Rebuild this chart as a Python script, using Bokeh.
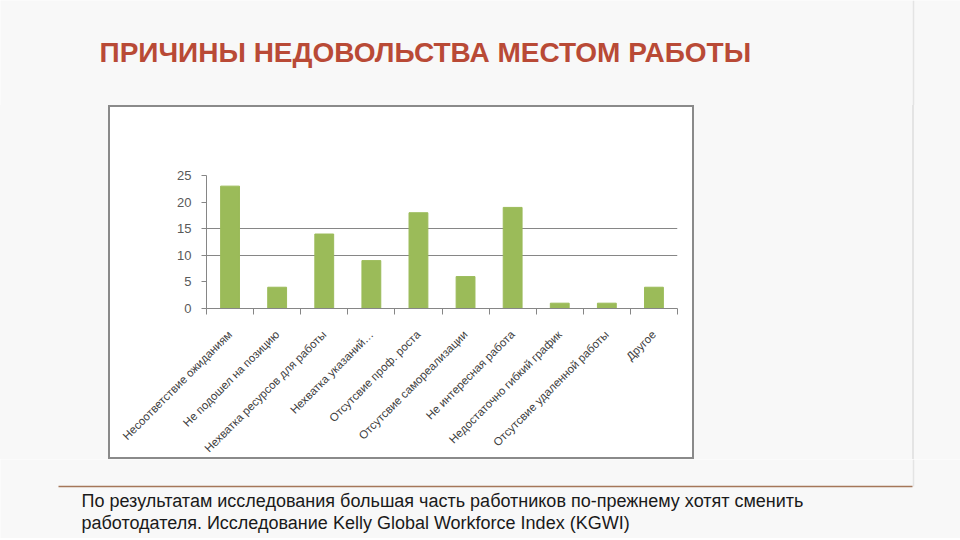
import math
from bokeh.plotting import figure
from bokeh.layouts import column, row
from bokeh.models import Range1d, FixedTicker, Spacer
from bokeh.core.properties import value
from bokeh.embed import file_html
from bokeh.resources import INLINE

categories = [
    "Несоответствие ожиданиям",
    "Не подошел на позицию",
    "Нехватка ресурсов для работы",
    "Нехватка указаний…",
    "Отсутсвие проф. роста",
    "Отсутсвие самореализации",
    "Не интересная работа",
    "Недостаточно гибкий график",
    "Отсутсвие удаленной работы",
    "Другое",
]
values = [23, 4, 14, 9, 18, 6, 19, 1, 1, 4]
y_ticks = [0, 5, 10, 15, 20, 25]
grid_ticks = [10, 15, 25]

title_text = "ПРИЧИНЫ НЕДОВОЛЬСТВА МЕСТОМ РАБОТЫ"
note_lines = [
    "По результатам исследования большая часть работников по-прежнему хотят сменить",
    "работодателя. Исследование Kelly Global Workforce Index (KGWI)",
]

SLIDE_BG = "#f8f8f8"
VLINE_COLOR = "#e4e4e4"
W = 960
TOP_H, MID_H, BOT_H = 105, 354, 79
LEFT_W, CHART_W = 108, 586
RIGHT_W = W - LEFT_W - CHART_W
BORDER = 2
VLINE_X = 913


def blank(width, height):
    f = figure(width=width, height=height, output_backend="svg", toolbar_location=None,
               x_range=Range1d(0, width), y_range=Range1d(height, 0),
               min_border=0, min_border_left=0, min_border_right=0,
               min_border_top=0, min_border_bottom=0)
    f.axis.visible = False
    f.grid.visible = False
    f.outline_line_color = None
    f.background_fill_color = SLIDE_BG
    f.border_fill_color = SLIDE_BG
    return f


# --- top strip: title
top = blank(W, TOP_H)
top.text(x=[99], y=[52], text=[title_text], text_font=value("Liberation Sans"),
         text_font_style="bold", text_font_size="28px", text_color="#b94a36",
         text_baseline="middle", text_align="left")
top.segment(x0=[VLINE_X], y0=[0], x1=[VLINE_X], y1=[TOP_H], line_color=VLINE_COLOR, line_width=1.5)

# --- chart
FL, FR, FT, FB = 96, 19, 68, 153
positions = list(range(1, len(categories) + 1))

p = figure(width=CHART_W, height=MID_H, output_backend="svg", toolbar_location=None,
           x_range=Range1d(0.5, len(categories) + 0.5), y_range=Range1d(0, 25),
           min_border_left=FL, min_border_right=FR,
           min_border_top=FT, min_border_bottom=FB,
           styles={"border": f"{BORDER}px solid #8a8a8a"})
p.border_fill_color = "white"
p.background_fill_color = "white"
p.outline_line_color = None

p.vbar(x=positions, top=values, width=0.4, color="#9BBB59")

p.xgrid.visible = False
p.ygrid.ticker = FixedTicker(ticks=grid_ticks)
p.ygrid.grid_line_color = "#868686"
p.ygrid.grid_line_width = 1

p.yaxis.ticker = FixedTicker(ticks=y_ticks)
p.yaxis.axis_line_color = "#868686"
p.yaxis.major_tick_line_color = "#868686"
p.yaxis.major_tick_in = 0
p.yaxis.major_tick_out = 5
p.yaxis.minor_tick_line_color = None
p.yaxis.major_label_text_color = "#595959"
p.yaxis.major_label_text_font = "Liberation Sans"
p.yaxis.major_label_text_font_size = "13px"
p.yaxis.major_label_standoff = 10

p.xaxis.ticker = FixedTicker(ticks=positions,
                             minor_ticks=[i + 0.5 for i in range(0, len(categories) + 1)])
p.xaxis.major_label_overrides = {pos: name for pos, name in zip(positions, categories)}
p.xaxis.major_label_orientation = math.pi / 4
p.xaxis.axis_line_color = "#868686"
p.xaxis.major_tick_line_color = None
p.xaxis.minor_tick_line_color = "#868686"
p.xaxis.minor_tick_in = 0
p.xaxis.minor_tick_out = 6
p.xaxis.major_label_text_color = "#404040"
p.xaxis.major_label_text_font = "Liberation Sans"
p.xaxis.major_label_text_font_size = "11.5px"
p.xaxis.major_label_standoff = 18

vx = VLINE_X - LEFT_W - CHART_W
left = Spacer(width=LEFT_W, height=MID_H, styles={"background-color": SLIDE_BG})
right = Spacer(width=RIGHT_W, height=MID_H, styles={
    "background": (f"linear-gradient(to right, {SLIDE_BG} 0px, {SLIDE_BG} {vx - 1}px, "
                   f"{VLINE_COLOR} {vx - 1}px, {VLINE_COLOR} {vx + 1}px, "
                   f"{SLIDE_BG} {vx + 1}px, {SLIDE_BG} 100%)")})

# --- bottom strip: rule and note
bot = blank(W, BOT_H)
bot.segment(x0=[VLINE_X], y0=[0], x1=[VLINE_X], y1=[27], line_color=VLINE_COLOR, line_width=1.5)
bot.segment(x0=[58], y0=[27], x1=[912], y1=[27], line_color="#a5775a", line_width=1.3)
for i, line in enumerate(note_lines):
    bot.text(x=[81], y=[41 + 22 * i], text=[line], text_font=value("Liberation Sans"),
             text_font_size="18px", text_color="#1a1a1a", text_baseline="middle",
             text_align="left")

layout = column(top, row(left, p, right), bot)

open("out.html", "w").write(file_html(layout, INLINE))
